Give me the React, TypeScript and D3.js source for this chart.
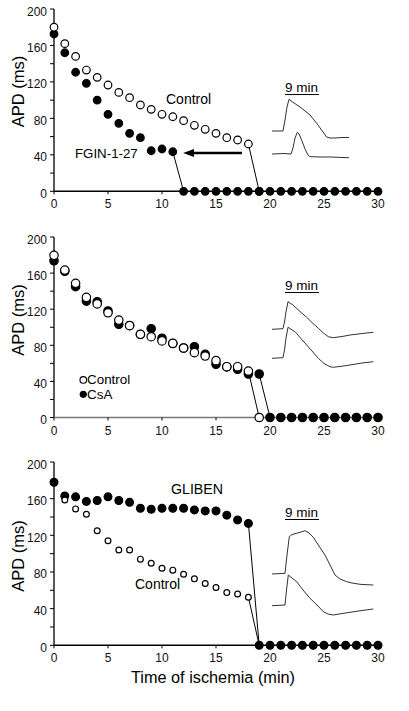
import React from "react";
import * as d3 from "d3";

// ---------- data (APD in ms, one value per minute of ischemia) ----------
const timeTicks = [0, 5, 10, 15, 20, 25, 30];
const apdTicks = [0, 20, 40, 60, 80, 100, 120, 140, 160, 180, 200];
const apdLabels = [0, 40, 80, 120, 160, 200];

// Panel A
const aControlStart = 0;
const aControl = [180, 162, 148, 133, 125, 116.6, 108.5, 102.7, 94.7, 89.9, 84.5, 81.8, 77.5, 72.4, 68, 63.6, 58.8, 56.3, 51.9, 0];
const aFginStart = 0;
const aFgin = [172.6, 152, 130.6, 118.5, 100, 84.5, 74.6, 63.6, 58.8, 44.5, 46.4, 43.4, 0, 0, 0, 0, 0, 0, 0, 0, 0, 0, 0, 0, 0, 0, 0, 0, 0, 0, 0];

// Panel B
const bControlStart = 0;
const bControl = [179.7, 163.4, 148.7, 133.2, 125.8, 116, 108, 101.7, 92.2, 89.5, 84.8, 82.2, 77, 71.8, 68.1, 63, 56.3, 56.3, 51.5, 0];
const bCsaStart = 0;
const bCsa = [173.7, 162, 145, 129, 128.3, 118, 103.3, 102, 92, 98.4, 87.8, 82, 77, 78.4, 70, 59, 56, 53.4, 48.2, 48.2, 0, 0, 0, 0, 0, 0, 0, 0, 0, 0, 0];

// Panel C
const cControlStart = 1;
const cControl = [158.6, 148.8, 143, 125, 114, 104, 104, 94, 89.6, 84, 82, 77.6, 72.5, 67.4, 63, 57.5, 56, 52.5, 0];
const cGlibenStart = 0;
const cGliben = [177.9, 163, 162, 157, 158, 162, 158, 156, 149.5, 148.5, 149.5, 149.5, 149.5, 147.7, 146.6, 146.6, 142, 136.8, 133, 0, 0, 0, 0, 0, 0, 0, 0, 0, 0, 0, 0];

// Inset action-potential traces at 9 min: [time unit, amplitude unit]
const aTraceUpper = [[0, 29], [11, 29], [13, 40], [15, 53], [17, 60.7], [22, 57], [28, 53], [38, 45], [46, 35], [54.6, 23], [58, 22], [63, 22], [70, 22.5], [77, 22.5]];
const aTraceLower = [[0, 6], [12, 6.5], [19, 6], [21, 12], [23, 22], [25.3, 27.7], [27, 26], [30, 19], [33, 11], [36, 5], [38, 3.3], [50, 3], [60, 3], [70, 2.5], [77, 2.3]];
const bTraceUpper = [[0, 40.7], [11, 41.3], [12.5, 48], [14, 58], [16, 68.3], [21, 65], [28, 58.5], [34.7, 52.7], [40, 47.5], [46.3, 41.7], [52, 36.5], [56.3, 33.3], [61.3, 32.3], [70, 33.5], [78, 35], [90, 36.5], [101.3, 37.7]];
const bTraceLower = [[0, 11.7], [11, 12.3], [12.5, 20], [14, 32], [16, 42.7], [23, 38.3], [29, 31.5], [34.7, 25], [40, 19], [46.3, 11.7], [52, 6.5], [58, 3.3], [61.3, 2.7], [70, 3.8], [78, 5], [90, 7], [101.3, 8.3]];
const cTraceUpper = [[0, 46], [13, 46.7], [15, 65], [17.3, 83.3], [20, 85.5], [24.7, 86.7], [29, 88], [33, 89.3], [37, 87], [41.3, 82.7], [47, 74], [53, 65], [58, 55], [63, 45], [68, 41], [74.7, 38.3], [80, 37], [88, 35.7], [95, 35.3], [101.3, 35]];
const cTraceLower = [[0, 14.3], [13, 15], [14.5, 30], [16.3, 45], [20, 42], [24.7, 38.3], [31, 30], [38, 21.7], [45, 15], [51.3, 8.3], [56, 6], [61.3, 5], [70, 6.5], [78, 7.7], [90, 9.5], [101.3, 11]];

// ---------- layout ----------
const W = 409;
const H = 711;
const FONT = "'Liberation Sans', Arial, Helvetica, sans-serif";
const x = d3.scaleLinear().domain([0, 30]).range([54, 378]);
const insetX = d3.scaleLinear().domain([0, 100]).range([272, 372]);

type Series = { start: number; values: number[]; filled: boolean; r: number };

function toPoints(s: Series) {
  return s.values.map((v, i) => ({ t: s.start + i, v }));
}

function dropSegment(s: Series) {
  const pts = toPoints(s);
  for (let i = 0; i < pts.length - 1; i++) {
    if (pts[i].v > 0 && pts[i + 1].v === 0) return [pts[i], pts[i + 1]];
  }
  return null;
}

const lineGen = (xs: any, ys: any) =>
  d3.line<number[]>().x((d) => xs(d[0])).y((d) => ys(d[1]));

function Panel(props: {
  y0: number;
  y1: number;
  open: Series;
  filled: Series;
  xAxisColor: string;
  titleV: number;
  traceRef: number;
  nineV: number;
  traces: number[][][];
  children?: (y: any) => React.ReactNode;
}) {
  const y = d3.scaleLinear().domain([0, 200]).range([props.y0, props.y1]);
  const iy = d3.scaleLinear().domain([0, 100]).range([props.traceRef, props.traceRef - 100]);
  const tl = lineGen(insetX, iy);
  const series = [props.open, props.filled];
  const filledPts = toPoints(props.filled);
  const openPts = toPoints(props.open);
  const circle = (p: { t: number; v: number }, s: Series, k: string) => (
    <circle
      key={k}
      cx={x(p.t)}
      cy={y(p.v)}
      r={s.r}
      fill={s.filled ? "#000" : "#fff"}
      stroke="#000"
      strokeWidth={1.2}
    />
  );
  const labelBase = y(0);
  const nineBase = iy(props.nineV);
  return (
    <g>
      {/* y axis */}
      <line x1={x(0)} x2={x(0)} y1={y(0)} y2={y(200)} stroke="#000" strokeWidth={1.3} />
      {apdTicks.map((t) => (
        <line key={"yt" + t} x1={x(0) - 4} x2={x(0)} y1={y(t)} y2={y(t)} stroke="#000" strokeWidth={1} />
      ))}
      {apdLabels.map((t) => (
        <text key={"yl" + t} x={x(0) - 7} y={y(t) + 6.5} textAnchor="end" fontSize={12} fontFamily={FONT} fill="#111">
          {t}
        </text>
      ))}
      {/* x axis */}
      <line x1={x(0)} x2={x(30)} y1={y(0)} y2={y(0)} stroke={props.xAxisColor} strokeWidth={1.4} />
      {timeTicks.map((t) => (
        <line key={"xt" + t} x1={x(t)} x2={x(t)} y1={y(0)} y2={y(0) + 3} stroke="#000" strokeWidth={1} />
      ))}
      {timeTicks.map((t) => (
        <text key={"xl" + t} x={x(t)} y={labelBase + 17} textAnchor="middle" fontSize={12} fontFamily={FONT} fill="#111">
          {t}
        </text>
      ))}
      {/* y title */}
      <text
        transform={`translate(24,${y(props.titleV)}) rotate(-90)`}
        textAnchor="middle"
        fontSize={16.5}
        fontFamily={FONT}
        fill="#000"
      >
        APD (ms)
      </text>
      {/* drop lines */}
      {series.map((s, i) => {
        const seg = dropSegment(s);
        if (!seg) return null;
        return (
          <line key={"drop" + i} x1={x(seg[0].t)} y1={y(seg[0].v)} x2={x(seg[1].t)} y2={y(seg[1].v)} stroke="#000" strokeWidth={1} />
        );
      })}
      {/* markers: filled non-zero, then open, then filled zeros */}
      {filledPts.filter((p) => p.v > 0).map((p, i) => circle(p, props.filled, "f" + i))}
      {openPts.map((p, i) => circle(p, props.open, "o" + i))}
      {filledPts.filter((p) => p.v === 0).map((p, i) => circle(p, props.filled, "z" + i))}
      {/* inset traces */}
      <text x={insetX(13)} y={nineBase} fontSize={13.5} fontFamily={FONT} fill="#000">
        9 min
      </text>
      <line x1={insetX(13)} x2={insetX(47)} y1={nineBase + 2.5} y2={nineBase + 2.5} stroke="#000" strokeWidth={1} />
      {props.traces.map((tr, i) => (
        <path key={"tr" + i} d={tl(tr as any) || ""} fill="none" stroke="#333" strokeWidth={1} />
      ))}
      {props.children ? props.children(y) : null}
    </g>
  );
}

export default function App() {
  return (
    <svg width={W} height={H} style={{ position: "absolute", left: 0, top: 0, background: "#fff" }}>
      <rect x={0} y={0} width={W} height={H} fill="#fff" />
      <Panel
        y0={191.3}
        y1={9}
        open={{ start: aControlStart, values: aControl, filled: false, r: 3.8 }}
        filled={{ start: aFginStart, values: aFgin, filled: true, r: 3.8 }}
        xAxisColor="#000"
        titleV={109.5}
        traceRef={160}
        nineV={68}
        traces={[aTraceUpper, aTraceLower]}
      >
        {(y) => (
          <g fontFamily={FONT} fill="#000">
            <text x={x(10.37)} y={y(95.8)} fontSize={14}>Control</text>
            <text x={x(1.94)} y={y(36.2)} fontSize={13.3}>FGIN-1-27</text>
            <line x1={x(17.4)} x2={x(12.9)} y1={y(42)} y2={y(42)} stroke="#000" strokeWidth={2.6} />
            <path
              d={`M${x(11.96)},${y(42)} L${x(12.96)},${y(42) - 4} L${x(12.96)},${y(42) + 4} Z`}
              fill="#000"
            />
          </g>
        )}
      </Panel>
      <Panel
        y0={417.5}
        y1={237}
        open={{ start: bControlStart, values: bControl, filled: false, r: 4.2 }}
        filled={{ start: bCsaStart, values: bCsa, filled: true, r: 4.2 }}
        xAxisColor="#777"
        titleV={108}
        traceRef={370}
        nineV={80}
        traces={[bTraceUpper, bTraceLower]}
      >
        {(y) => (
          <g fontFamily={FONT} fill="#000">
            <circle cx={x(2.71)} cy={y(41.6)} r={3.3} fill="#fff" stroke="#000" strokeWidth={1.1} />
            <text x={x(3.06)} y={y(41.6) + 4.5} fontSize={13.4}>Control</text>
            <circle cx={x(2.71)} cy={y(25.7)} r={3.6} fill="#000" />
            <text x={x(3.06)} y={y(25.7) + 4.5} fontSize={13.4}>CsA</text>
          </g>
        )}
      </Panel>
      <Panel
        y0={645.3}
        y1={462}
        open={{ start: cControlStart, values: cControl, filled: false, r: 2.9 }}
        filled={{ start: cGlibenStart, values: cGliben, filled: true, r: 3.9 }}
        xAxisColor="#000"
        titleV={97.5}
        traceRef={620}
        nineV={103}
        traces={[cTraceUpper, cTraceLower]}
      >
        {(y) => (
          <g fontFamily={FONT} fill="#000">
            <text x={x(10.83)} y={y(164.8)} fontSize={14.2}>GLIBEN</text>
            <text x={x(7.5)} y={y(61.4)} fontSize={14}>Control</text>
          </g>
        )}
      </Panel>
      <text x={213} y={683} textAnchor="middle" fontSize={16.3} fontFamily={FONT} fill="#000">
        Time of ischemia (min)
      </text>
    </svg>
  );
}
